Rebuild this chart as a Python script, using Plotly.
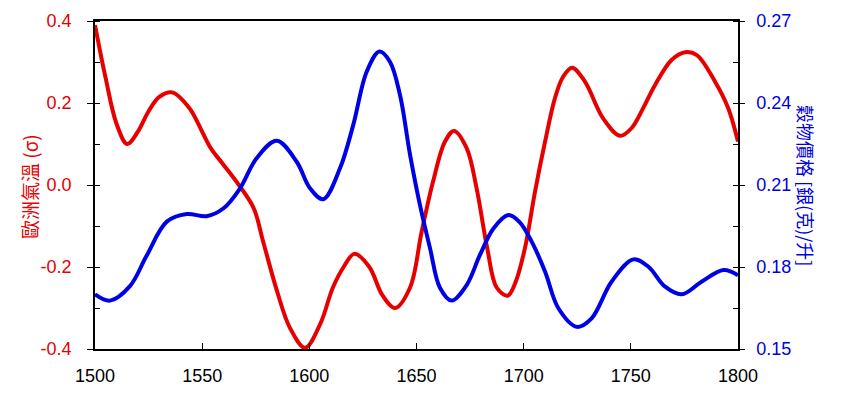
import plotly.graph_objects as go

# European temperature anomaly (sigma)
temp_years = [1500, 1505, 1510, 1515, 1520, 1525, 1530, 1536, 1544, 1550, 1554, 1560, 1566, 1574,
              1578.5, 1585, 1591, 1598, 1605, 1611, 1616, 1621, 1628, 1634, 1640, 1647, 1652.4,
              1657.7, 1663.3, 1667.5, 1673.4, 1678, 1683, 1687.4, 1692.5, 1696, 1700.6, 1705.3,
              1710, 1714.6, 1718.4, 1722.6, 1728.6, 1737, 1745, 1750.4, 1756, 1761.3, 1769,
              1775.3, 1780.8, 1789.3, 1795.4, 1800]
temp = [0.39, 0.26, 0.15, 0.10, 0.13, 0.18, 0.215, 0.226, 0.188, 0.13, 0.09, 0.049, 0.008, -0.056,
        -0.139, -0.26, -0.349, -0.397, -0.34, -0.25, -0.2, -0.168, -0.20, -0.268, -0.30, -0.25, -0.114,
        0.008, 0.106, 0.132, 0.09, -0.007, -0.154, -0.25, -0.27, -0.24, -0.154, -0.016,
        0.106, 0.212, 0.264, 0.286, 0.252, 0.163, 0.12, 0.139, 0.19, 0.244, 0.305,
        0.324, 0.317, 0.252, 0.188, 0.106]

# Grain price (grams of silver per litre)
price_years = [1500, 1507, 1516.3, 1524, 1533.5, 1542.8, 1552, 1560, 1567.7, 1575.4, 1584.8, 1594.1,
               1600.3, 1606.5, 1614.3, 1620.5, 1626.8, 1632.7, 1637.6, 1642.3, 1647, 1651.6,
               1656.3, 1661, 1666.4, 1673.4, 1679.6, 1685.9, 1692.9, 1698, 1703.8, 1710, 1716.2,
               1724.8, 1731.7, 1741, 1751.2, 1758.2, 1766, 1773.7, 1783, 1793.2, 1800]
price = [0.170, 0.1677, 0.173, 0.184, 0.1966, 0.1994, 0.1986, 0.2015, 0.2088, 0.2198, 0.2262, 0.2185,
         0.2088, 0.2048, 0.2161, 0.232, 0.2515, 0.2588, 0.2551, 0.2429, 0.221, 0.2027,
         0.1869, 0.1723, 0.1677, 0.1734, 0.1844, 0.1941, 0.199, 0.1965, 0.1892, 0.1783, 0.1649,
         0.1581, 0.1612, 0.1746, 0.1828, 0.1801, 0.1728, 0.170, 0.1746, 0.1789, 0.177]

x_ticks = [1500, 1550, 1600, 1650, 1700, 1750, 1800]
left_ticks = [-0.4, -0.2, 0.0, 0.2, 0.4]
left_labels = ["-0.4", "-0.2", "0.0", "0.2", "0.4"]
right_ticks = [0.15, 0.18, 0.21, 0.24, 0.27]
right_labels = ["0.15", "0.18", "0.21", "0.24", "0.27"]

RED = "#e60000"
BLUE = "#0000e6"
FONT = "Liberation Sans, Arial, sans-serif"
CJK = "Noto Sans CJK TC, Noto Sans CJK SC, sans-serif"

fig = go.Figure()
fig.add_trace(go.Scatter(x=temp_years, y=temp, mode="lines",
                         line=dict(color=RED, width=4, shape="spline", smoothing=1.0),
                         yaxis="y", showlegend=False, hoverinfo="skip"))
fig.add_trace(go.Scatter(x=price_years, y=price, mode="lines",
                         line=dict(color=BLUE, width=4, shape="spline", smoothing=1.0),
                         yaxis="y2", showlegend=False, hoverinfo="skip"))

fig.update_layout(
    width=847, height=398,
    margin=dict(l=87, r=117, t=13, b=57),
    paper_bgcolor="white", plot_bgcolor="white",
    font=dict(family=FONT, size=18, color="black"),
    xaxis=dict(range=[1500, 1800], tickvals=x_ticks, ticktext=[str(v) for v in x_ticks],
               showgrid=False, zeroline=False, showline=True, linecolor="black", linewidth=1.5,
               mirror=True, ticks="inside", ticklen=6, tickcolor="black", tickwidth=1.2,
               automargin=False,
               ticklabelstandoff=10, tickfont=dict(family=FONT, size=18, color="black")),
    yaxis=dict(range=[-0.4, 0.4], tickvals=left_ticks, ticktext=left_labels,
               showgrid=False, zeroline=False, showline=True, linecolor="black", linewidth=1.5,
               ticks="outside", ticklen=6, tickcolor="black", tickwidth=1.2, automargin=False,
               minor=dict(dtick=0.1, ticks="inside", ticklen=5, tickcolor="black", showgrid=False),
               ticklabelstandoff=12, tickfont=dict(family=FONT, size=18, color=RED)),
    yaxis2=dict(range=[0.15, 0.27], tickvals=right_ticks, ticktext=right_labels,
                overlaying="y", side="right", automargin=False,
                showgrid=False, zeroline=False, showline=True, linecolor="black", linewidth=1.5,
                ticks="outside", ticklen=5, tickcolor="black", tickwidth=1.2,
                minor=dict(dtick=0.015, ticks="inside", ticklen=5, tickcolor="black", showgrid=False),
                ticklabelstandoff=8, tickfont=dict(family=FONT, size=18, color=BLUE)),
    annotations=[
        dict(text="歐洲氣溫 (σ)", xref="paper", yref="paper", x=0.0, y=0.5,
             xanchor="center", yanchor="middle", xshift=-66, yshift=-2, textangle=-90, showarrow=False,
             font=dict(family=CJK, size=19, color=RED)),
        dict(text="穀物價格 [銀(克)/升]", xref="paper", yref="paper", x=1.0, y=0.5,
             xanchor="center", yanchor="middle", xshift=68, textangle=90, showarrow=False,
             font=dict(family=CJK, size=18, color=BLUE)),
    ],
)

fig.write_html("out.html")
